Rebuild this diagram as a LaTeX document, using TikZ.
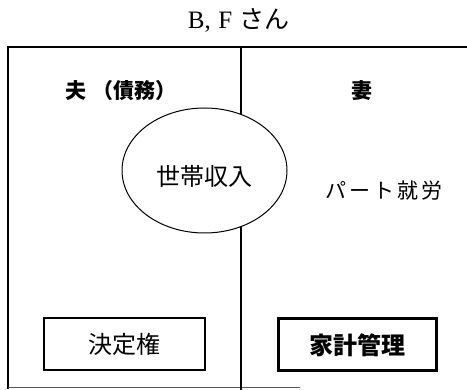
\documentclass[tikz,border=0pt]{standalone}
\usepackage{graphicx}
\usepackage{fontspec}
\setmainfont{Liberation Serif}
\newfontfamily\jp{Noto Sans CJK JP}
\newfontfamily\jpls[LetterSpace=15]{Noto Sans CJK JP}
\usetikzlibrary{shapes.geometric}
\begin{document}
\begin{tikzpicture}[x=1pt,y=-1pt,
  frame/.style={line width=2pt,line cap=rect},
  lbl/.style={inner sep=0pt,anchor=center},
  hdr/.style={lbl,font=\jp\bfseries\fontsize{21}{21}\selectfont},
  boxthin/.style={draw,line width=1.3pt,minimum width=161pt,minimum height=52pt,inner sep=0pt,font=\jp\fontsize{24}{24}\selectfont},
  boxthick/.style={draw,line width=3pt,minimum width=158pt,minimum height=52pt,inner sep=0pt,font=\jp\bfseries\fontsize{24}{24}\selectfont}]
\useasboundingbox (0,0) rectangle (467,390);
% frame
\coordinate (tl) at (8,47);
\coordinate (tr) at (467,47);
\coordinate (bl) at (8,388);
\coordinate (br) at (300,388);
\coordinate (dt) at (241,47);
\coordinate (db) at (241,390);
\draw[frame] (tr) -- (tl) -- (bl);
\draw[line width=1pt,black!65] (bl) -- (br);
\draw[frame,line cap=butt] (dt) -- (db);
% headers
\node[hdr] (husband) at (121,91) {夫\hspace{7pt}（債務）};
\node[hdr] (wife) at (361.5,91) {妻};
% ellipse
\node[ellipse,draw,fill=white,line width=1pt,minimum width=165pt,minimum height=125pt,inner sep=0pt] (income) at (204.5,170.5) {};
\node[lbl,font=\jp\fontsize{24}{24}\selectfont] (incometext) at (204.5,176.5) {世帯収入};
\node[lbl,font=\jpls\fontsize{21}{21}\selectfont] (part) at (384,191) {パート就労};
% boxes
\node[boxthin] (decision) at (124.5,344) {決定権};
\node[boxthick] (budget) at (357,345) {家計管理};
% title
\node[lbl] (title) at (239,20) {\resizebox{102pt}{!}{\rmfamily B,\hspace{3pt}F\hspace{3pt}{\jp さん}}};
\end{tikzpicture}
\end{document}
